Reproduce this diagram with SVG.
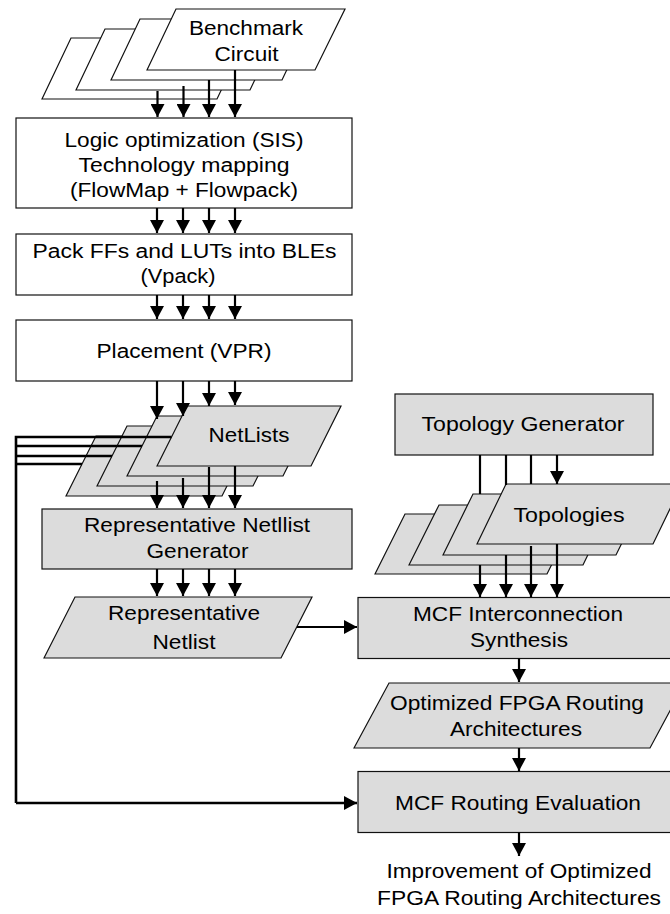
<svg xmlns="http://www.w3.org/2000/svg" width="670" height="914" viewBox="0 0 670 914">
<defs>
<style>
.w{fill:#fff;stroke:#111;stroke-width:1.2}
.g{fill:#dcdcdc;stroke:#111;stroke-width:1.2}
.t{font-family:"Liberation Sans",Arial,sans-serif;font-size:20px;fill:#000;text-anchor:middle}
.c{stroke:#000;stroke-width:2.2;fill:none}
.b{stroke:#000;stroke-width:2.6;fill:none}
</style>
<marker id="ah" markerUnits="userSpaceOnUse" markerWidth="14" markerHeight="14" refX="13" refY="7" orient="auto">
<path d="M0,0 L13,7 L0,14 Z" fill="#000"/>
</marker>
</defs>
<rect width="670" height="914" fill="#fff"/>

<g id="benchmark">
<polygon class="w" points="42,99 71,38 246,38 217,99"/>
<polygon class="w" points="76,90 105,29 279,29 250,90"/>
<polygon class="w" points="111,80 140,19 311,19 282,80"/>
<polygon class="w" points="147,70 176,9 345,9 315,70"/>
<text class="t" x="246" y="35" textLength="114" lengthAdjust="spacingAndGlyphs">Benchmark</text>
<text class="t" x="246.5" y="60.5" textLength="64" lengthAdjust="spacingAndGlyphs">Circuit</text>
</g>

<g id="logic-opt">
<rect class="w" x="16" y="118" width="336" height="90"/>
<text class="t" x="184" y="147" textLength="239" lengthAdjust="spacingAndGlyphs">Logic optimization (SIS)</text>
<text class="t" x="184" y="172" textLength="211" lengthAdjust="spacingAndGlyphs">Technology mapping</text>
<text class="t" x="184" y="197" textLength="228" lengthAdjust="spacingAndGlyphs">(FlowMap + Flowpack)</text>
</g>

<g id="vpack">
<rect class="w" x="16" y="234" width="336" height="61"/>
<text class="t" x="184.5" y="257.5" textLength="304" lengthAdjust="spacingAndGlyphs">Pack FFs and LUTs into BLEs</text>
<text class="t" x="178" y="282.5" textLength="75" lengthAdjust="spacingAndGlyphs">(Vpack)</text>
</g>

<g id="placement">
<rect class="w" x="16" y="320" width="336" height="61"/>
<text class="t" x="184" y="358" textLength="175" lengthAdjust="spacingAndGlyphs">Placement (VPR)</text>
</g>

<g id="netlists">
<polygon class="g" points="66,496 96,436 252,436 222,496"/>
<polygon class="g" points="97,486 127,426 283,426 253,486"/>
<polygon class="g" points="127,476 157,416 313,416 283,476"/>
<polygon class="g" points="157,466 187,406 341,406 311,466"/>
<text class="t" x="249" y="442" textLength="81" lengthAdjust="spacingAndGlyphs">NetLists</text>
</g>

<g id="rep-gen">
<rect class="g" x="42" y="509" width="310" height="60"/>
<text class="t" x="197" y="532" textLength="226" lengthAdjust="spacingAndGlyphs">Representative Netllist</text>
<text class="t" x="197.5" y="558" textLength="102" lengthAdjust="spacingAndGlyphs">Generator</text>
</g>

<g id="rep-netlist">
<polygon class="g" points="44,658 75,597 312,597 281,658"/>
<text class="t" x="184" y="620" textLength="152" lengthAdjust="spacingAndGlyphs">Representative</text>
<text class="t" x="184" y="649" textLength="63" lengthAdjust="spacingAndGlyphs">Netlist</text>
</g>

<g id="topo-gen">
<rect class="g" x="395" y="394" width="258" height="61"/>
<text class="t" x="523" y="431" textLength="203" lengthAdjust="spacingAndGlyphs">Topology Generator</text>
</g>

<g id="topologies">
<polygon class="g" points="375,574 405,514 577,514 547,574"/>
<polygon class="g" points="409,565 439,505 612,505 583,565"/>
<polygon class="g" points="443,555 473,494 646,494 616,555"/>
<polygon class="g" points="477,544 506,484 682,484 653,544"/>
<text class="t" x="569" y="522" textLength="111" lengthAdjust="spacingAndGlyphs">Topologies</text>
</g>

<g id="mcf-synth">
<rect class="g" x="358" y="597.5" width="320" height="61"/>
<text class="t" x="518" y="621" textLength="210" lengthAdjust="spacingAndGlyphs">MCF Interconnection</text>
<text class="t" x="519" y="647" textLength="98" lengthAdjust="spacingAndGlyphs">Synthesis</text>
</g>

<g id="optimized">
<polygon class="g" points="354,748 389,683 685,683 650,748"/>
<text class="t" x="517" y="710" textLength="254" lengthAdjust="spacingAndGlyphs">Optimized FPGA Routing</text>
<text class="t" x="516" y="736" textLength="132" lengthAdjust="spacingAndGlyphs">Architectures</text>
</g>

<g id="mcf-eval">
<rect class="g" x="358" y="771.5" width="320" height="61"/>
<text class="t" x="518" y="810" textLength="246" lengthAdjust="spacingAndGlyphs">MCF Routing Evaluation</text>
</g>

<g id="result">
<text class="t" x="519" y="878" textLength="265" lengthAdjust="spacingAndGlyphs">Improvement of Optimized</text>
<text class="t" x="519" y="905" textLength="284" lengthAdjust="spacingAndGlyphs">FPGA Routing Architectures</text>
</g>

<g id="connectors">
<path class="c" marker-end="url(#ah)" d="M157.5,91 V117"/>
<path class="c" marker-end="url(#ah)" d="M183.5,86 V117"/>
<path class="c" marker-end="url(#ah)" d="M209,80 V117"/>
<path class="c" marker-end="url(#ah)" d="M235,70 V117"/>

<path class="c" marker-end="url(#ah)" d="M157,208 V233"/>
<path class="c" marker-end="url(#ah)" d="M183,208 V233"/>
<path class="c" marker-end="url(#ah)" d="M209,208 V233"/>
<path class="c" marker-end="url(#ah)" d="M235,208 V233"/>

<path class="c" marker-end="url(#ah)" d="M157,295 V319"/>
<path class="c" marker-end="url(#ah)" d="M183,295 V319"/>
<path class="c" marker-end="url(#ah)" d="M209,295 V319"/>
<path class="c" marker-end="url(#ah)" d="M235,295 V319"/>

<path class="c" marker-end="url(#ah)" d="M157,381 V419"/>
<path class="c" marker-end="url(#ah)" d="M183,381 V416"/>
<path class="c" marker-end="url(#ah)" d="M209,381 V406"/>
<path class="c" marker-end="url(#ah)" d="M235,381 V405"/>

<path class="b" d="M171.5,437 H16 V803"/>
<path class="b" d="M142,446 H16"/>
<path class="b" d="M112,456 H16"/>
<path class="b" d="M82,464 H16"/>
<path class="b" marker-end="url(#ah)" d="M16,803 H357"/>

<path class="c" marker-end="url(#ah)" d="M157,481 V508"/>
<path class="c" marker-end="url(#ah)" d="M183,478 V508"/>
<path class="c" marker-end="url(#ah)" d="M209,467 V508"/>
<path class="c" marker-end="url(#ah)" d="M235,466 V508"/>

<path class="c" marker-end="url(#ah)" d="M157,569 V596"/>
<path class="c" marker-end="url(#ah)" d="M183,569 V596"/>
<path class="c" marker-end="url(#ah)" d="M209,569 V596"/>
<path class="c" marker-end="url(#ah)" d="M235,569 V596"/>

<path class="c" marker-end="url(#ah)" d="M297,627 H357"/>

<path class="c" d="M480,455 V494"/>
<path class="c" d="M506,455 V485"/>
<path class="c" d="M531,455 V484"/>
<path class="c" marker-end="url(#ah)" d="M557,455 V484"/>

<path class="c" marker-end="url(#ah)" d="M480,565 V597"/>
<path class="c" marker-end="url(#ah)" d="M506,555 V597"/>
<path class="c" marker-end="url(#ah)" d="M531,546 V597"/>
<path class="c" marker-end="url(#ah)" d="M557,544 V597"/>

<path class="c" marker-end="url(#ah)" d="M519,658.5 V682"/>
<path class="c" marker-end="url(#ah)" d="M519,748 V771"/>
<path class="c" marker-end="url(#ah)" d="M519,832.5 V856"/>
</g>
</svg>
